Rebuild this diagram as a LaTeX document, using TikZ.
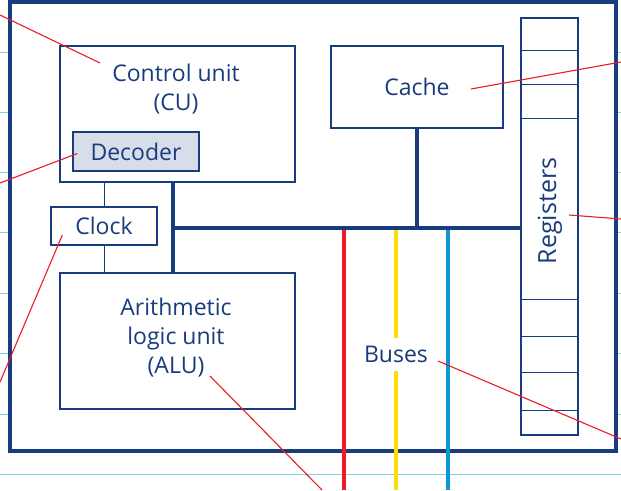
\documentclass[tikz,border=0pt]{standalone}
\usepackage{fontspec}
\setmainfont{Open Sans}
\usepackage{xcolor}
\usepackage{tikz}
\usetikzlibrary{positioning, calc, arrows.meta}

\definecolor{inkblue}{RGB}{24,60,125}
\definecolor{decfill}{RGB}{216,221,234}
\definecolor{leadred}{RGB}{237,28,36}
\definecolor{busyellow}{RGB}{255,221,0}
\definecolor{buscyan}{RGB}{12,150,214}
\definecolor{ruleblue}{RGB}{130,208,238}

\begin{document}
\begin{tikzpicture}[
        x=1pt, y=-1pt,
        % Style for the unit boxes
        unitbox/.style={
            draw=inkblue,
            line width=1.3pt,
            fill=white,
            inner sep=0pt
        },
        % Style for the texts in the boxes
        unittext/.style={
            text=inkblue,
            align=center,
            font=\fontsize{23}{29}\selectfont
        },
        % Style for the thick inner bus
        mainbus/.style={
            draw=inkblue,
            line width=4pt
        },
        % Style for the coloured buses
        colbus/.style={
            line width=4.5pt
        },
        % Style for the thin clock wires
        clockwire/.style={
            draw=inkblue,
            line width=0.8pt
        },
        % Style for the red pointer lines
        leader/.style={
            draw=leadred,
            line width=1.1pt
        },
        % Style for the register cells
        cellline/.style={
            draw=inkblue,
            line width=1pt
        },
        % Style for the paper rules
        ruleline/.style={
            draw=ruleblue,
            line width=1pt
        }
    ]
    \useasboundingbox (0,0) rectangle (621,490);

    % ==========================================
    % PAPER AND CHIP FRAME
    % ==========================================
    \foreach \y in {52,112,172,232,293,353,414,474}
        \draw[ruleline] (0,\y) -- (621,\y);

    \node[unitbox, line width=3.5pt, minimum width=606pt, minimum height=449pt] (chip) at (313,226.5) {};

    % ==========================================
    % UNITS
    % ==========================================
    \node[unitbox, minimum width=235pt, minimum height=136pt] (cu) at (177.5,114) {};
    \node[unittext] (cutext) at (176,89) {Control unit\\(CU)};
    \node[unitbox, unittext, fill=decfill, minimum width=126pt, minimum height=39pt] (dec) at (136,151.5) {Decoder};

    \node[unitbox, unittext, minimum width=106pt, minimum height=38pt] (clock) at (104,226) {Clock};

    \node[unitbox, minimum width=235pt, minimum height=136pt] (alu) at (177.5,341) {};
    \node[unittext] (alutext) at (176,338) {Arithmetic\\logic unit\\(ALU)};

    \node[unitbox, unittext, minimum width=172pt, minimum height=82pt] (cache) at (417,87) {Cache};

    \node[unitbox, minimum width=57pt, minimum height=417pt] (reg) at (549.5,226.5) {};
    \foreach \dy in {33,67,101,282,319,355,393}
        \draw[cellline] ($(reg.north west)+(0,\dy)$) -- ($(reg.north east)+(0,\dy)$);
    \node[unittext, rotate=90, font=\fontsize{25}{29}\selectfont] (regtext) at (550,211) {Registers};

    % ==========================================
    % WIRES AND BUSES
    % ==========================================
    \draw[clockwire] (cu.south -| clock.north) -- (clock.north);
    \draw[clockwire] (clock.south) -- (clock.south |- alu.north);

    \coordinate (hub) at (173,228);
    \coordinate (redend) at (344,490);
    \coordinate (yellowend) at (396,490);
    \coordinate (cyanend) at (448,490);
    \node[unittext, minimum height=33pt, inner sep=0pt] (buses) at (396,354.5) {Buses};

    \draw[colbus, leadred] (hub -| redend) -- (redend);
    \draw[colbus, busyellow] (hub -| yellowend) -- (buses.north);
    \draw[colbus, busyellow] (buses.south) -- (yellowend);
    \draw[colbus, buscyan] (hub -| cyanend) -- (cyanend);

    \draw[mainbus] (hub |- cu.south) -- (hub |- alu.north);
    \draw[mainbus] (hub) -- (hub -| reg.west);
    \draw[mainbus] (cache.south) -- (cache.south |- hub);

    % ==========================================
    % POINTERS
    % ==========================================
    \coordinate (cuend) at (0,15);
    \coordinate (decend) at (0,183);
    \coordinate (clockend) at (0,382);
    \coordinate (aluend) at (322,490);
    \coordinate (cacheend) at (621,62);
    \coordinate (regend) at (621,219);
    \coordinate (busesend) at (621,439);

    \draw[leader] ($(cutext.center)+(-76,-26)$) -- (cuend);
    \draw[leader] ($(dec.west)+(5,2)$) -- (decend);
    \draw[leader] ($(clock.west)+(12,9)$) -- (clockend);
    \draw[leader] ($(alutext.center)+(34,38)$) -- (aluend);
    \draw[leader] ($(cache.center)+(54,2)$) -- (cacheend);
    \draw[leader] ($(reg.center)+(19.5,-11.5)$) -- (regend);
    \draw[leader] ($(buses.center)+(42,6.5)$) -- (busesend);
\end{tikzpicture}
\end{document}
